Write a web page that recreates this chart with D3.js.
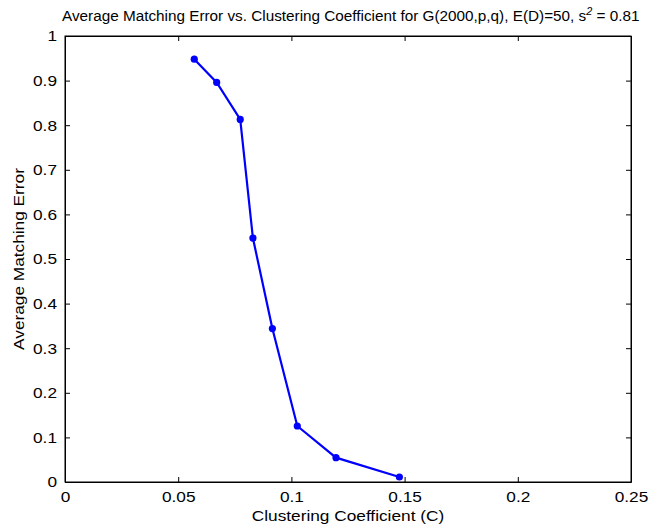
<!DOCTYPE html>
<html><head><meta charset="utf-8">
<script src="https://cdn.jsdelivr.net/npm/d3@7"></script>
<style>body{margin:0;background:#fff}text{font-family:"Liberation Sans",Arial,sans-serif}</style>
</head><body>
<svg id="c" width="650" height="529"></svg>
<script>
const xValues = [0.0571, 0.0670, 0.0774, 0.0830, 0.0916, 0.1026, 0.1197, 0.1477];
const yValues = [0.948, 0.896, 0.813, 0.547, 0.344, 0.1256, 0.0546, 0.0112];
const xTicks = [0, 0.05, 0.1, 0.15, 0.2, 0.25];
const yTicks = [0, 0.1, 0.2, 0.3, 0.4, 0.5, 0.6, 0.7, 0.8, 0.9, 1];
const xTickLabels = ["0", "0.05", "0.1", "0.15", "0.2", "0.25"];
const yTickLabels = ["0", "0.1", "0.2", "0.3", "0.4", "0.5", "0.6", "0.7", "0.8", "0.9", "1"];

(function () {
const L = 65, R = 631, T = 36, B = 482;
const K = 1.15; // horizontal glyph stretch
const svg = d3.select("#c");
const x = d3.scaleLinear().domain([0, 0.25]).range([L, R]);
const y = d3.scaleLinear().domain([0, 1]).range([B, T]);

function stretch(sel) {
  sel.each(function () {
    const w = this.getComputedTextLength();
    d3.select(this).attr("textLength", w * K).attr("lengthAdjust", "spacingAndGlyphs");
  });
}

const axB = svg.append("g").attr("transform", `translate(0,${B})`)
  .call(d3.axisBottom(x).tickValues(xTicks).tickFormat((d,i)=>xTickLabels[i]).tickSizeInner(-5).tickSizeOuter(0).tickPadding(9));
const axT = svg.append("g").attr("transform", `translate(0,${T})`)
  .call(d3.axisTop(x).tickValues(xTicks).tickFormat("").tickSizeInner(-5).tickSizeOuter(0));
const axL = svg.append("g").attr("transform", `translate(${L},0)`)
  .call(d3.axisLeft(y).tickValues(yTicks).tickFormat((d,i)=>yTickLabels[i]).tickSizeInner(-5).tickSizeOuter(0).tickPadding(8));
const axR = svg.append("g").attr("transform", `translate(${R},0)`)
  .call(d3.axisRight(y).tickValues(yTicks).tickFormat("").tickSizeInner(-5).tickSizeOuter(0));
[axB, axT, axL, axR].forEach(a => {
  a.select(".domain").attr("stroke", "#000").attr("stroke-width", 1);
  a.selectAll(".tick line").attr("stroke", "#000");
  a.selectAll("text").attr("font-size", 15).attr("fill", "#000")
    .style("font-family", '"Liberation Sans",Arial,sans-serif');
});
stretch(axB.selectAll(".tick text"));
stretch(axL.selectAll(".tick text"));

svg.append("rect").attr("x", L).attr("y", T).attr("width", R - L).attr("height", B - T)
  .attr("fill", "none").attr("stroke", "#000").attr("stroke-width", 1);

const pts = xValues.map((v, i) => [v, yValues[i]]);
svg.append("path").datum(pts)
  .attr("d", d3.line().x(d => x(d[0])).y(d => y(d[1])))
  .attr("fill", "none").attr("stroke", "#0000ff").attr("stroke-width", 2.2);
svg.selectAll("circle.pt").data(pts).enter().append("circle")
  .attr("class", "pt").attr("cx", d => x(d[0])).attr("cy", d => y(d[1]))
  .attr("r", 3.6).attr("fill", "#0000ff");

// title: fit between x=62 and x=640
const title = svg.append("text").attr("x", 0).attr("y", 0)
  .attr("text-anchor", "start").attr("font-size", 14).attr("fill", "#000");
title.append("tspan").text("Average Matching Error vs. Clustering Coefficient for G(2000,p,q), E(D)=50, s");
title.append("tspan").attr("dy", -6).attr("font-size", 10).attr("font-style", "italic").text("2");
title.append("tspan").attr("dy", 6).text(" = 0.81");
const tb = title.node().getBBox();
const tk = (640 - 62) / tb.width;
title.attr("transform", `translate(${62 - tb.x * tk},21) scale(${tk},1)`);

const xl = svg.append("text").attr("x", (L + R) / 2).attr("y", 521).attr("text-anchor", "middle")
  .attr("font-size", 15).attr("fill", "#000").text("Clustering Coefficient (C)");
stretch(xl);
const yl = svg.append("text").attr("transform", `translate(24,${(T + B) / 2}) rotate(-90)`)
  .attr("text-anchor", "middle").attr("font-size", 15).attr("fill", "#000").text("Average Matching Error");
stretch(yl);
})();
</script>
</body></html>
